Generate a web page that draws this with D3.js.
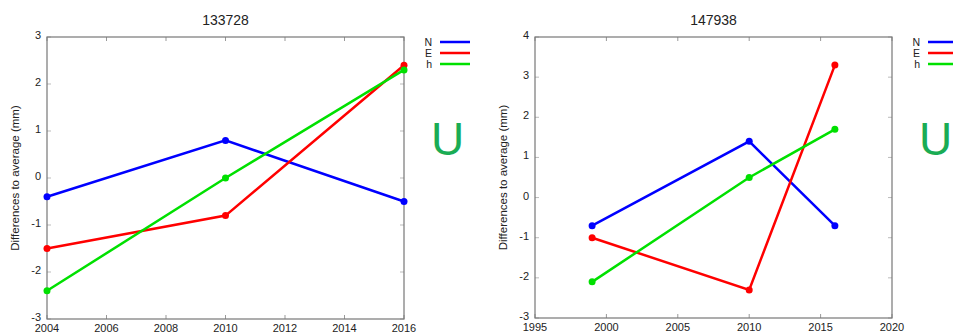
<!DOCTYPE html><html>
<head>
<meta charset="utf-8">
<script src="https://cdnjs.cloudflare.com/ajax/libs/d3/7.8.5/d3.min.js"></script>
<style>
  body { margin: 0; background: #fff; }
  svg text { font-family: "Liberation Sans", Arial, sans-serif; fill: #222; }
</style>
</head>
<body>
<svg id="chart" width="953" height="334"></svg>
<script>
// station 133728
var yearsA = [2004, 2010, 2016];
var nA = [-0.4, 0.8, -0.5];
var eA = [-1.5, -0.8, 2.4];
var hA = [-2.4, 0.0, 2.3];
var xTicksA = [2004, 2006, 2008, 2010, 2012, 2014, 2016];
var yTicksA = [-3, -2, -1, 0, 1, 2, 3];

// station 147938
var yearsB = [1999, 2010, 2016];
var nB = [-0.7, 1.4, -0.7];
var eB = [-1.0, -2.3, 3.3];
var hB = [-2.1, 0.5, 1.7];
var xTicksB = [1995, 2000, 2005, 2010, 2015, 2020];
var yTicksB = [-3, -2, -1, 0, 1, 2, 3, 4];

var seriesNames = ["N", "E", "h"];
var seriesColors = ["#0000ff", "#ff0000", "#00e000"];

var svg = d3.select("#chart");

function drawPanel(opt) {
    var x = d3.scaleLinear().domain(opt.xDomain).range([opt.left, opt.right]);
    var y = d3.scaleLinear().domain(opt.yDomain).range([opt.bottom, opt.top]);
    var g = svg.append("g");

    // ticks (mirrored on all sides, pointing inward)
    var tl = 4;
    opt.xTicks.forEach(function(t) {
        g.append("line").attr("x1", x(t)).attr("x2", x(t)).attr("y1", opt.bottom).attr("y2", opt.bottom - tl)
            .attr("stroke", "#999").attr("stroke-width", 1);
        g.append("line").attr("x1", x(t)).attr("x2", x(t)).attr("y1", opt.top).attr("y2", opt.top + tl)
            .attr("stroke", "#999").attr("stroke-width", 1);
        g.append("text").attr("x", x(t)).attr("y", opt.bottom + 13).attr("text-anchor", "middle")
            .attr("font-size", 11).text(t);
    });
    opt.yTicks.forEach(function(t) {
        g.append("line").attr("x1", opt.left).attr("x2", opt.left + tl).attr("y1", y(t)).attr("y2", y(t))
            .attr("stroke", "#bbb").attr("stroke-width", 1);
        g.append("line").attr("x1", opt.right).attr("x2", opt.right - tl).attr("y1", y(t)).attr("y2", y(t))
            .attr("stroke", "#bbb").attr("stroke-width", 1);
        g.append("text").attr("x", opt.left - 6).attr("y", y(t) + 2).attr("text-anchor", "end")
            .attr("font-size", 11).text(t);
    });

    // frame
    g.append("rect").attr("x", opt.left).attr("y", opt.top)
        .attr("width", opt.right - opt.left).attr("height", opt.bottom - opt.top)
        .attr("fill", "none").attr("stroke", "#777").attr("stroke-width", 1.2);

    // title and axis label
    g.append("text").attr("x", (opt.left + opt.right) / 2).attr("y", 25).attr("text-anchor", "middle")
        .attr("font-size", 14).text(opt.title);
    g.append("text").attr("transform", "translate(" + opt.ylabelX + "," + ((opt.top + opt.bottom) / 2) + ") rotate(-90)")
        .attr("text-anchor", "middle").attr("font-size", 11.5).text("Differences to average (mm)");

    // series
    var line = d3.line().x(function(d) { return x(d[0]); }).y(function(d) { return y(d[1]); });
    opt.series.forEach(function(vals, i) {
        var pts = opt.years.map(function(yr, j) { return [yr, vals[j]]; });
        g.append("path").attr("d", line(pts)).attr("fill", "none")
            .attr("stroke", seriesColors[i]).attr("stroke-width", 2.5);
        g.selectAll(null).data(pts).enter().append("circle")
            .attr("cx", function(d) { return x(d[0]); })
            .attr("cy", function(d) { return y(d[1]); })
            .attr("r", 3.5).attr("fill", seriesColors[i]);
    });

    // legend
    seriesNames.forEach(function(name, i) {
        var ly = 42 + i * 11;
        g.append("text").attr("x", opt.legendX).attr("y", ly + 3.5).attr("text-anchor", "end")
            .attr("font-size", 10.5).text(name);
        g.append("line").attr("x1", opt.legendX + 8).attr("x2", opt.legendX + 38)
            .attr("y1", ly).attr("y2", ly).attr("stroke", seriesColors[i]).attr("stroke-width", 2.5);
    });

    // big U
    g.append("text").attr("x", opt.legendX - 1).attr("y", 155).attr("font-size", 46)
        .style("fill", "#1aac54").text("U");
}

drawPanel({
    title: "133728", years: yearsA, series: [nA, eA, hA],
    xDomain: [2004, 2016], yDomain: [-3, 3], xTicks: xTicksA, yTicks: yTicksA,
    left: 47, right: 404, top: 37, bottom: 319, ylabelX: 19, legendX: 432
});
drawPanel({
    title: "147938", years: yearsB, series: [nB, eB, hB],
    xDomain: [1995, 2020], yDomain: [-3, 4], xTicks: xTicksB, yTicks: yTicksB,
    left: 535, right: 892, top: 37, bottom: 318, ylabelX: 507, legendX: 920
});
</script>
</body>
</html>
